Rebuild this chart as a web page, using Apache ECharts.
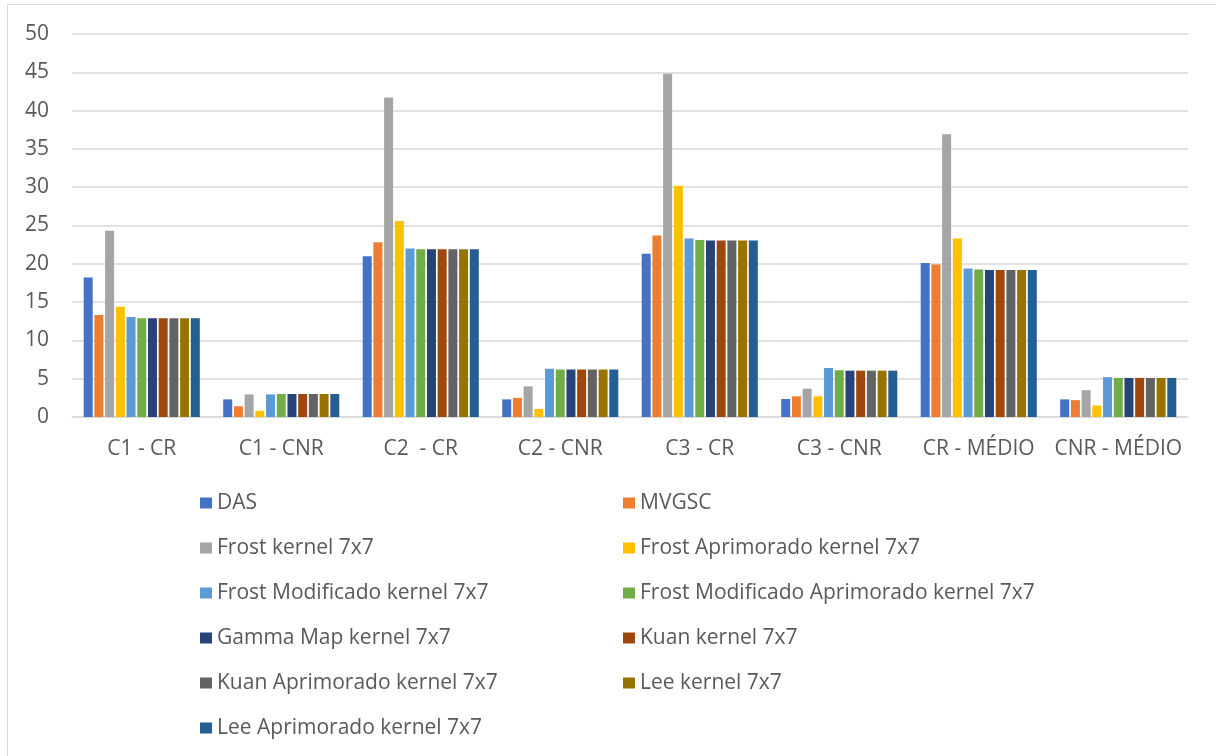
<!DOCTYPE html>
<html>
<head>
<meta charset="utf-8">
<script src="https://cdn.jsdelivr.net/npm/echarts@6/dist/echarts.min.js"></script>
<style>
html,body{margin:0;padding:0;background:#fff;}
#c{width:1216px;height:756px;}
</style>
</head>
<body>
<div id="c"></div>
<script>
const categories = ['C1 - CR', 'C1 - CNR', 'C2  - CR', 'C2 - CNR', 'C3 - CR', 'C3 - CNR', 'CR - MÉDIO', 'CNR - MÉDIO'];
const yTicks = [0, 5, 10, 15, 20, 25, 30, 35, 40, 45, 50];

const seriesNames = ['DAS', 'MVGSC', 'Frost kernel 7x7', 'Frost Aprimorado kernel 7x7',
  'Frost Modificado kernel 7x7', 'Frost Modificado Aprimorado kernel 7x7', 'Gamma Map kernel 7x7',
  'Kuan kernel 7x7', 'Kuan Aprimorado kernel 7x7', 'Lee kernel 7x7', 'Lee Aprimorado kernel 7x7'];

const das         = [18.2, 2.3, 21.0, 2.3, 21.3, 2.35, 20.1, 2.3];
const mvgsc       = [13.3, 1.4, 22.8, 2.5, 23.7, 2.7, 19.9, 2.2];
const frost       = [24.3, 2.95, 41.7, 4.0, 44.8, 3.7, 36.9, 3.5];
const frostApr    = [14.4, 0.8, 25.6, 1.05, 30.2, 2.7, 23.3, 1.5];
const frostMod    = [13.05, 2.95, 22.0, 6.3, 23.3, 6.4, 19.4, 5.2];
const frostModApr = [12.9, 3.0, 21.9, 6.2, 23.1, 6.1, 19.25, 5.1];
const gammaMap    = [12.9, 3.0, 21.9, 6.2, 23.05, 6.05, 19.2, 5.1];
const kuan        = [12.9, 3.0, 21.9, 6.2, 23.05, 6.05, 19.2, 5.1];
const kuanApr     = [12.9, 3.0, 21.9, 6.2, 23.05, 6.05, 19.2, 5.1];
const lee         = [12.9, 3.0, 21.9, 6.2, 23.05, 6.05, 19.2, 5.1];
const leeApr      = [12.9, 3.0, 21.9, 6.2, 23.05, 6.05, 19.2, 5.1];

const seriesData = [das, mvgsc, frost, frostApr, frostMod, frostModApr, gammaMap, kuan, kuanApr, lee, leeApr];
const colors = ['#4472C4', '#ED7D31', '#A5A5A5', '#FFC000', '#5B9BD5', '#70AD47',
  '#264478', '#9E480E', '#636363', '#997300', '#255E91'];

const FONT = 'Open Sans';
const TXT = '#595959';

const chart = echarts.init(document.getElementById('c'), null, {renderer: 'canvas'});

const legendText = {color: TXT, fontSize: 21, fontFamily: FONT, lineHeight: 24, padding: [0, 0, 0, 0]};

chart.setOption({
  animation: false,
  color: colors,
  graphic: [{
    type: 'rect',
    shape: {x: 7.5, y: 4.5, width: 1220, height: 760},
    style: {fill: 'none', stroke: '#d9d9d9', lineWidth: 1}
  }],
  grid: {left: 72, right: 28, top: 34, bottom: 339, containLabel: false},
  legend: [
    {
      data: seriesNames.filter((_, i) => i % 2 === 0),
      orient: 'vertical', left: 200, top: 491,
      itemWidth: 12, itemHeight: 11, itemGap: 21, icon: 'rect',
      textStyle: legendText, padding: 0
    },
    {
      data: seriesNames.filter((_, i) => i % 2 === 1),
      orient: 'vertical', left: 623, top: 491,
      itemWidth: 12, itemHeight: 11, itemGap: 21, icon: 'rect',
      textStyle: legendText, padding: 0
    }
  ],
  xAxis: {
    type: 'category',
    data: categories,
    axisLine: {lineStyle: {color: '#d9d9d9', width: 1.5}},
    axisTick: {show: false},
    axisLabel: {color: TXT, fontSize: 21, fontFamily: FONT, margin: 22, interval: 0}
  },
  yAxis: {
    type: 'value',
    min: yTicks[0], max: yTicks[yTicks.length - 1], interval: 5,
    axisLine: {show: false},
    axisTick: {show: false},
    splitLine: {lineStyle: {color: '#d9d9d9', width: 1.5}},
    axisLabel: {color: TXT, fontSize: 21, fontFamily: FONT, margin: 23}
  },
  series: seriesNames.map((name, i) => ({
    name: name,
    type: 'bar',
    data: seriesData[i],
    barWidth: 9,
    barGap: '19%',
    itemStyle: {color: colors[i]}
  }))
});
</script>
</body>
</html>
